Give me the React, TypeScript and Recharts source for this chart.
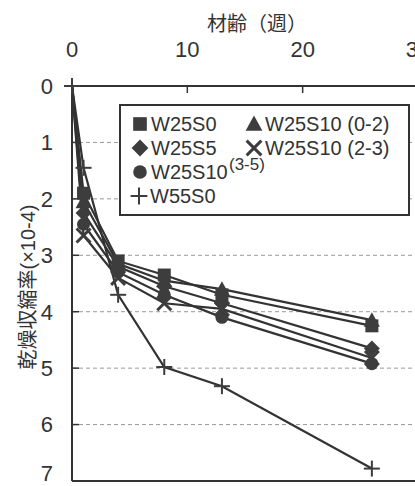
import { CartesianGrid, Legend, Line, LineChart, ReferenceLine, XAxis, YAxis } from 'recharts'

// 材齢（週）
const WEEKS = [0, 1, 4, 8, 13, 26]

// 乾燥収縮率 (×10-4)
const W25S0 = [0, 1.9, 3.1, 3.35, 3.7, 4.25]
const W25S5 = [0, 2.25, 3.2, 3.55, 3.85, 4.65]
const W25S10_35 = [0, 2.45, 3.3, 3.7, 4.1, 4.92]
const W55S0 = [0, 1.45, 3.7, 4.98, 5.32, 6.78]
const W25S10_02 = [0, 2.05, 3.15, 3.45, 3.6, 4.15]
const W25S10_23 = [0, 2.65, 3.4, 3.85, 3.95, 4.82]

const X_TICKS = [0, 10, 20, 30]
const Y_TICKS = [0, 1, 2, 3, 4, 5, 6, 7]

const FONT = "'Liberation Sans', 'Noto Sans CJK JP', sans-serif"
const INK = '#333'
const MARK = '#3d3d3d'

type Shape = 'square' | 'diamond' | 'circle' | 'plus' | 'triangle' | 'cross'

// only W55S0 shows its marker at the origin, the others are hidden under it
const SERIES: { key: string; name: string; shape: Shape; values: number[]; origem: boolean }[] = [
  { key: 'w55s0', name: 'W55S0', shape: 'plus', values: W55S0, origem: true },
  { key: 'w25s10_35', name: 'W25S10 (3-5)', shape: 'circle', values: W25S10_35, origem: false },
  { key: 'w25s10_23', name: 'W25S10 (2-3)', shape: 'cross', values: W25S10_23, origem: false },
  { key: 'w25s5', name: 'W25S5', shape: 'diamond', values: W25S5, origem: false },
  { key: 'w25s0', name: 'W25S0', shape: 'square', values: W25S0, origem: false },
  { key: 'w25s10_02', name: 'W25S10 (0-2)', shape: 'triangle', values: W25S10_02, origem: false },
]

const dados = WEEKS.map((week, i) => {
  const row: Record<string, number> = { week }
  SERIES.forEach((s) => {
    row[s.key] = s.values[i]
  })
  return row
})

function Marker({ cx, cy, shape, scale = 1 }: { cx: number; cy: number; shape: Shape; scale?: number }) {
  const k = scale
  switch (shape) {
    case 'square':
      return <rect x={cx - 6.5 * k} y={cy - 6.5 * k} width={13 * k} height={13 * k} fill={MARK} />
    case 'diamond':
      return (
        <polygon
          points={`${cx},${cy - 8 * k} ${cx + 8 * k},${cy} ${cx},${cy + 8 * k} ${cx - 8 * k},${cy}`}
          fill={MARK}
        />
      )
    case 'circle':
      return <circle cx={cx} cy={cy} r={6.5 * k} fill={MARK} />
    case 'triangle':
      return (
        <polygon
          points={`${cx},${cy - 8 * k} ${cx + 8 * k},${cy + 6.5 * k} ${cx - 8 * k},${cy + 6.5 * k}`}
          fill={MARK}
        />
      )
    case 'cross':
      return (
        <g stroke={MARK} strokeWidth={3}>
          <line x1={cx - 7 * k} y1={cy - 7 * k} x2={cx + 7 * k} y2={cy + 7 * k} />
          <line x1={cx - 7 * k} y1={cy + 7 * k} x2={cx + 7 * k} y2={cy - 7 * k} />
        </g>
      )
    default:
      return (
        <g stroke={MARK} strokeWidth={2}>
          <line x1={cx - 8 * k} y1={cy} x2={cx + 8 * k} y2={cy} />
          <line x1={cx} y1={cy - 8 * k} x2={cx} y2={cy + 8 * k} />
        </g>
      )
  }
}

function LegendBox() {
  const txt = { fontFamily: FONT, fontSize: 20, fill: INK }
  const item = (s: Shape, label: string, x: number, y: number) => (
    <g key={label}>
      <Marker cx={x} cy={y} shape={s} scale={1.05} />
      <text x={x + 11} y={y + 7} {...txt}>
        {label}
      </text>
    </g>
  )
  return (
    <svg width={291} height={112} style={{ display: 'block' }}>
      <rect x={1} y={1} width={289} height={110} fill="#fff" stroke={INK} strokeWidth={2} />
      {item('square', 'W25S0', 21, 20)}
      {item('diamond', 'W25S5', 21, 44)}
      <Marker cx={21} cy={68} shape="circle" scale={1.05} />
      <text x={32} y={75} {...txt}>
        W25S10
      </text>
      <text x={110} y={66} {...txt} fontSize={17}>
        (3-5)
      </text>
      {item('plus', 'W55S0', 20, 92)}
      {item('triangle', 'W25S10 (0-2)', 135, 20)}
      {item('cross', 'W25S10 (2-3)', 135, 44)}
    </svg>
  )
}

function TituloX() {
  return (
    <text x={257} y={31} textAnchor="middle" fontFamily={FONT} fontSize={20} fill={INK}>
      材齢（週）
    </text>
  )
}

function TituloY() {
  return (
    <text
      x={28}
      y={287}
      transform="rotate(-90, 28, 287)"
      textAnchor="middle"
      dominantBaseline="central"
      fontFamily={FONT}
      fontSize={20}
      fill={INK}
    >
      乾燥収縮率(×10-4)
    </text>
  )
}

export default function App() {
  return (
    <div style={{ position: 'absolute', left: 0, top: 0, width: 415, height: 486, overflow: 'hidden', background: '#fff' }}>
      <LineChart width={440} height={486} data={dados} margin={{ top: 0, right: 22, bottom: 5, left: 0 }}>
        <CartesianGrid vertical={false} stroke="#999" strokeDasharray="4 3" />
        <XAxis
          dataKey="week"
          type="number"
          orientation="top"
          domain={[0, 30]}
          ticks={X_TICKS}
          height={86}
          tickSize={-7}
          tickMargin={36}
          axisLine={{ stroke: INK, strokeWidth: 2 }}
          tickLine={{ stroke: INK, strokeWidth: 1.5 }}
          tick={{ fontFamily: FONT, fontSize: 22, fill: INK }}
          label={<TituloX />}
        />
        <YAxis
          type="number"
          reversed
          domain={[0, 7]}
          ticks={Y_TICKS}
          width={72}
          tickSize={-7}
          tickMargin={26}
          axisLine={{ stroke: INK, strokeWidth: 2 }}
          tickLine={{ stroke: INK, strokeWidth: 1.5 }}
          tick={{ fontFamily: FONT, fontSize: 22, fill: INK }}
          label={<TituloY />}
        />
        <ReferenceLine y={7} stroke={INK} strokeWidth={2} />
        <Legend
          layout="horizontal"
          verticalAlign="middle"
          align="center"
          wrapperStyle={{ left: 119, top: 104, width: 291, height: 112 }}
          content={() => <LegendBox />}
        />
        {SERIES.map((s) => (
          <Line
            key={s.key}
            dataKey={s.key}
            name={s.name}
            stroke={INK}
            strokeWidth={2.2}
            isAnimationActive={false}
            dot={(p: any) =>
              p.index === 0 && !s.origem ? (
                <g key={`${s.key}-${p.index}`} />
              ) : (
                <Marker key={`${s.key}-${p.index}`} cx={p.cx} cy={p.cy} shape={s.shape} />
              )
            }
            activeDot={false}
          />
        ))}
      </LineChart>
    </div>
  )
}
